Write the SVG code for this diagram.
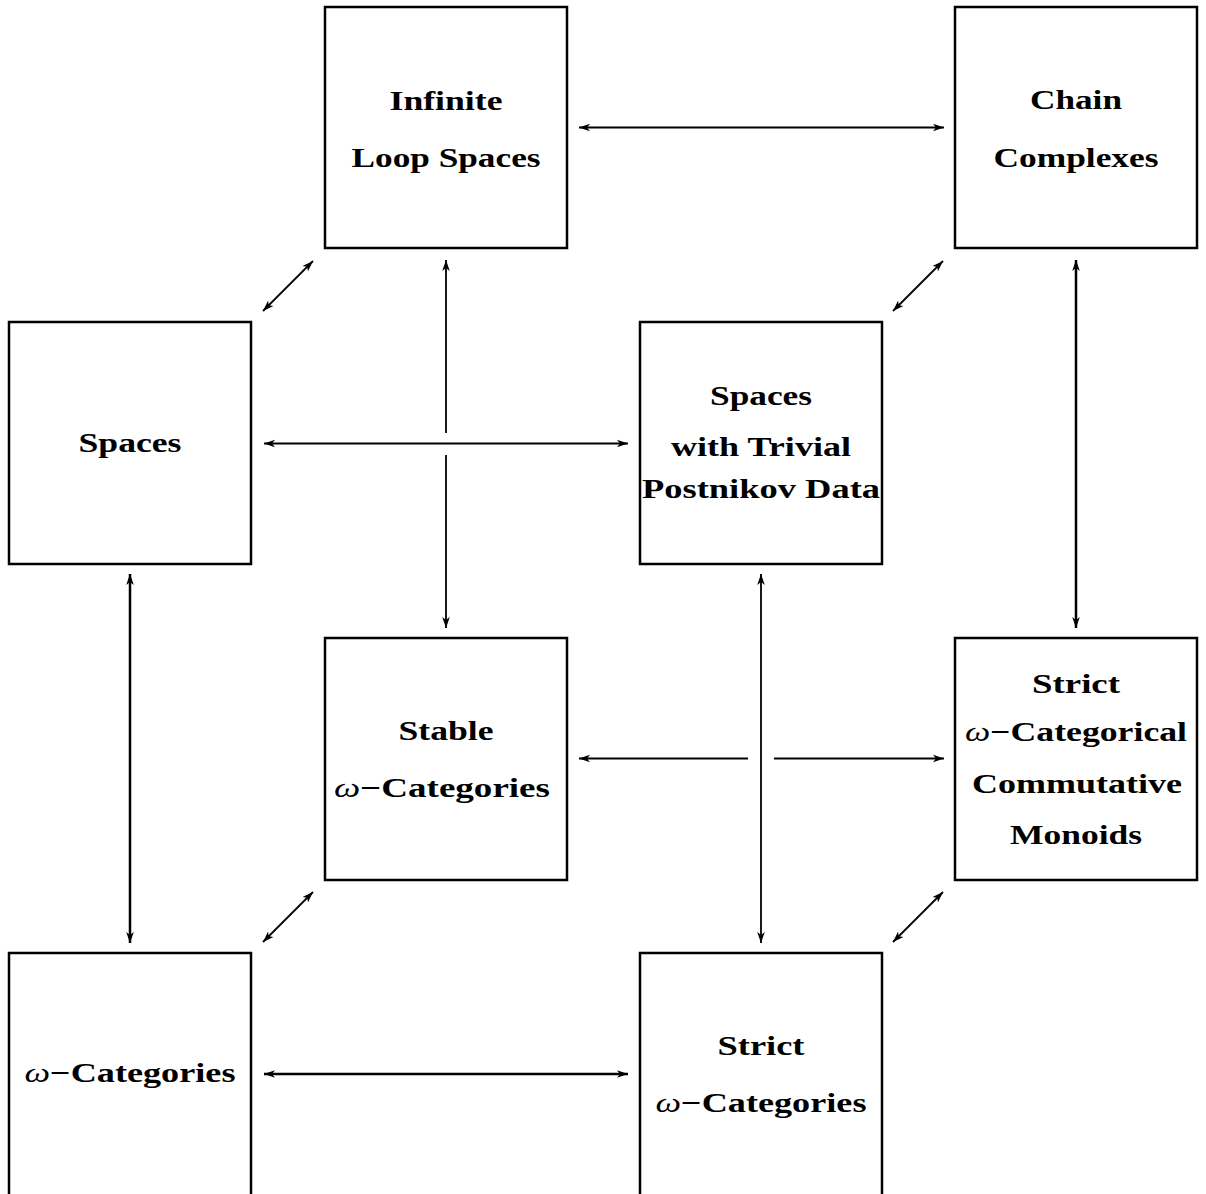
<svg xmlns="http://www.w3.org/2000/svg" width="1206" height="1194" viewBox="0 0 1206 1194">
<defs>
<style>
.box{fill:#fff;stroke:#000;stroke-width:2.5}
.t{font-family:"Liberation Serif","DejaVu Serif",serif;font-weight:bold;font-size:28px;text-anchor:middle;fill:#000}
.w{font-style:italic;font-weight:normal}
.c{stroke:#000;stroke-width:1.8;fill:none;marker-start:url(#ah);marker-end:url(#ah)}
.k{stroke-width:2.5}
</style>
<marker id="ah" viewBox="-11 -5 12 10" refX="0" refY="0" markerWidth="12" markerHeight="10" markerUnits="userSpaceOnUse" orient="auto-start-reverse">
<path d="M0,0 L-11,-3.8 L-8,0 L-11,3.8 Z" fill="#000"/>
</marker>
</defs>
<rect width="1206" height="1194" fill="#fff"/>
<g id="connectors">
<line class="c" x1="579" y1="127.5" x2="944" y2="127.5"/>
<line class="c" x1="264" y1="443.5" x2="628" y2="443.5"/>
<path class="c" d="M446,260 L446,433 M446,455 L446,628"/>
<line class="c k" x1="1076" y1="260" x2="1076" y2="628"/>
<line class="c k" x1="130" y1="574" x2="130" y2="943"/>
<line class="c" x1="761" y1="574" x2="761" y2="943"/>
<path class="c" d="M579,758.5 L748,758.5 M774,758.5 L944,758.5"/>
<line class="c k" x1="264" y1="1074" x2="628" y2="1074"/>
<line class="c" x1="263" y1="311" x2="313" y2="261"/>
<line class="c" x1="893" y1="311" x2="943" y2="261"/>
<line class="c" x1="263" y1="942" x2="313" y2="892"/>
<line class="c" x1="893" y1="942" x2="943" y2="892"/>
</g>
<g id="infinite-loop-spaces">
<rect class="box" x="325" y="7" width="242" height="241"/>
<text class="t" x="446" y="110" textLength="113" lengthAdjust="spacingAndGlyphs">Infinite</text>
<text class="t" x="446" y="167" textLength="189" lengthAdjust="spacingAndGlyphs">Loop Spaces</text>
</g>
<g id="chain-complexes">
<rect class="box" x="955" y="7" width="242" height="241"/>
<text class="t" x="1076" y="109" textLength="92" lengthAdjust="spacingAndGlyphs">Chain</text>
<text class="t" x="1076" y="167" textLength="165" lengthAdjust="spacingAndGlyphs">Complexes</text>
</g>
<g id="spaces">
<rect class="box" x="9" y="322" width="242" height="242"/>
<text class="t" x="130" y="452" textLength="103" lengthAdjust="spacingAndGlyphs">Spaces</text>
</g>
<g id="spaces-trivial-postnikov">
<rect class="box" x="640" y="322" width="242" height="242"/>
<text class="t" x="761" y="405" textLength="102" lengthAdjust="spacingAndGlyphs">Spaces</text>
<text class="t" x="761" y="456" textLength="180" lengthAdjust="spacingAndGlyphs">with Trivial</text>
<text class="t" x="761" y="498" textLength="238" lengthAdjust="spacingAndGlyphs">Postnikov Data</text>
</g>
<g id="stable-omega-categories">
<rect class="box" x="325" y="638" width="242" height="242"/>
<text class="t" x="446" y="740" textLength="95" lengthAdjust="spacingAndGlyphs">Stable</text>
<text class="t" x="442" y="797" textLength="216" lengthAdjust="spacingAndGlyphs"><tspan class="w">ω</tspan>−Categories</text>
</g>
<g id="strict-omega-categorical-commutative-monoids">
<rect class="box" x="955" y="638" width="242" height="242"/>
<text class="t" x="1076" y="693" textLength="88" lengthAdjust="spacingAndGlyphs">Strict</text>
<text class="t" x="1076" y="741" textLength="222" lengthAdjust="spacingAndGlyphs"><tspan class="w">ω</tspan>−Categorical</text>
<text class="t" x="1077" y="793" textLength="210" lengthAdjust="spacingAndGlyphs">Commutative</text>
<text class="t" x="1076" y="844" textLength="132" lengthAdjust="spacingAndGlyphs">Monoids</text>
</g>
<g id="omega-categories">
<rect class="box" x="9" y="953" width="242" height="260"/>
<text class="t" x="130" y="1082" textLength="211" lengthAdjust="spacingAndGlyphs"><tspan class="w">ω</tspan>−Categories</text>
</g>
<g id="strict-omega-categories">
<rect class="box" x="640" y="953" width="242" height="260"/>
<text class="t" x="761" y="1055" textLength="87" lengthAdjust="spacingAndGlyphs">Strict</text>
<text class="t" x="761" y="1112" textLength="211" lengthAdjust="spacingAndGlyphs"><tspan class="w">ω</tspan>−Categories</text>
</g>
</svg>
